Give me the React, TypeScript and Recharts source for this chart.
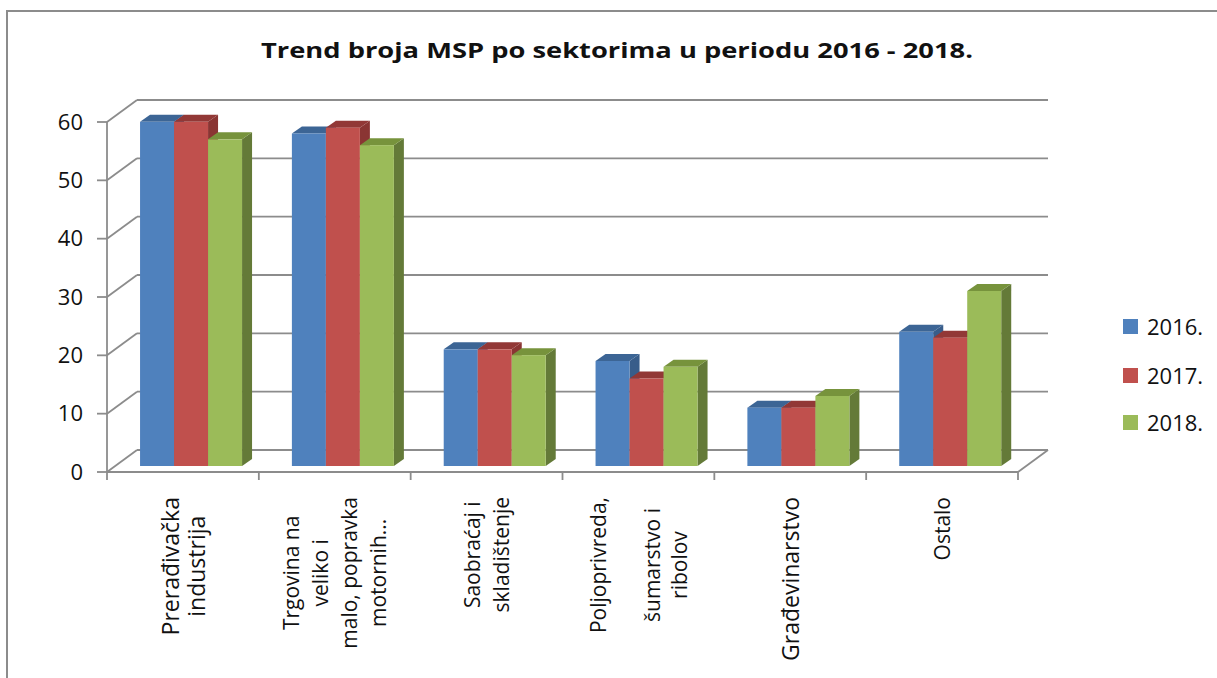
import React from 'react';
import { BarChart, Bar, XAxis, YAxis, CartesianGrid } from 'recharts';

// ---------- data ----------
const title = 'Trend broja MSP po sektorima u periodu 2016 - 2018.';
const categories = [
  'Prerađivačka industrija',
  'Trgovina na veliko i malo, popravka motornih...',
  'Saobraćaj i skladištenje',
  'Poljoprivreda, šumarstvo i ribolov',
  'Građevinarstvo',
  'Ostalo',
];
const categoryLabelLines = [
  ['Prerađivačka', 'industrija'],
  ['Trgovina na', 'veliko i', 'malo, popravka', 'motornih...'],
  ['Saobraćaj i', 'skladištenje'],
  ['Poljoprivreda,', '', 'šumarstvo i', 'ribolov'],
  ['Građevinarstvo'],
  ['Ostalo'],
];
const seriesNames = ['2016.', '2017.', '2018.'];
const values2016 = [59, 57, 20, 18, 10, 23];
const values2017 = [59, 58, 20, 15, 10, 22];
const values2018 = [56, 55, 19, 17, 12, 30];
const yTicks = [0, 10, 20, 30, 40, 50, 60];

// ---------- styles / geometry ----------
const W = 1217;
const H = 678;
const FONT = "'Open Sans', sans-serif";
const GRID = '#8c8c8c';
const FRONT = ['#4F81BD', '#C0504D', '#9BBB59'];
const TOP = ['#3C6595', '#923836', '#77933C'];
const SIDE = ['#385D8A', '#8A3533', '#647A38'];
const WALL_DX = 30;
const WALL_DY = -22;
const BAR_SHIFT_X = 8;
const BAR_SHIFT_Y = -6;
const BAR_DX = 10;
const BAR_DY = -7;
const PLOT_LEFT = 107;
const PLOT_RIGHT_MARGIN = 199;
const PLOT_W = W - PLOT_LEFT - PLOT_RIGHT_MARGIN;
const LABEL_TOP_GAP = 25;
const LABEL_STYLE = [
  { size: 23, gap: 26 },
  { size: 21, gap: 29 },
  { size: 21, gap: 29 },
  { size: 21, gap: 27 },
  { size: 23, gap: 26 },
  { size: 21, gap: 26 },
];

const data = categories.map((name, i) => ({
  name,
  v2016: values2016[i],
  v2017: values2017[i],
  v2018: values2018[i],
}));
const seriesKeys = ['v2016', 'v2017', 'v2018'];

let measureCtx: CanvasRenderingContext2D | null = null;
function measure(text: string, size: number): number {
  try {
    if (!measureCtx) measureCtx = document.createElement('canvas').getContext('2d');
    if (measureCtx) {
      measureCtx.font = `${size}px 'Open Sans'`;
      return measureCtx.measureText(text).width;
    }
  } catch (e) {}
  return text.length * size * 0.55;
}

const makeShape = (k: number) => (props: any) => {
  const { x, y, width, height } = props;
  if (x == null || y == null || !height) return <g />;
  const fx = x + BAR_SHIFT_X;
  const fy = y + BAR_SHIFT_Y;
  const w = width;
  const h = height;
  const top = `${fx},${fy} ${fx + w},${fy} ${fx + w + BAR_DX},${fy + BAR_DY} ${fx + BAR_DX},${fy + BAR_DY}`;
  const side = `${fx + w},${fy} ${fx + w + BAR_DX},${fy + BAR_DY} ${fx + w + BAR_DX},${fy + h + BAR_DY} ${fx + w},${fy + h}`;
  return (
    <g>
      <polygon points={side} fill={SIDE[k]} />
      <polygon points={top} fill={TOP[k]} />
      <rect x={fx} y={fy} width={w} height={h} fill={FRONT[k]} />
    </g>
  );
};

const renderHLine = (p: any) => {
  const { x1, y1, x2, index } = p;
  return (
    <g key={`hl-${index}-${y1}`}>
      <line x1={x1 + WALL_DX} y1={y1 + WALL_DY} x2={x2 + WALL_DX} y2={y1 + WALL_DY} stroke={GRID} strokeWidth={1.8} />
      <line x1={x1} y1={y1} x2={x1 + WALL_DX} y2={y1 + WALL_DY} stroke={GRID} strokeWidth={1.8} />
    </g>
  );
};

const CatTick = (props: any) => {
  const { x, y, index } = props;
  const band = PLOT_W / categories.length;
  const lines = categoryLabelLines[index] || [];
  const st = LABEL_STYLE[index] || { size: 21, gap: 28 };
  const longest = Math.max(...lines.map((l) => measure(l, st.size)));
  const cy = y + LABEL_TOP_GAP + longest / 2;
  const n = lines.length;
  const left = x - band / 2;
  const right = x + band / 2;
  return (
    <g>
      <line x1={left} y1={y} x2={left} y2={y + 8} stroke={GRID} strokeWidth={1.8} />
      {index === categories.length - 1 && (
        <g>
          <line x1={right} y1={y} x2={right} y2={y + 8} stroke={GRID} strokeWidth={1.8} />
          <line x1={right} y1={y} x2={right + WALL_DX} y2={y + WALL_DY} stroke={GRID} strokeWidth={1.8} />
        </g>
      )}
      {lines.map((l, i) => {
        const lx = x + (i - (n - 1) / 2) * st.gap;
        return (
          <text
            key={i}
            x={lx}
            y={cy}
            transform={`rotate(-90, ${lx}, ${cy})`}
            textAnchor="middle"
            dominantBaseline="central"
            fontSize={st.size}
            fontFamily={FONT}
            fill="#111"
          >
            {l}
          </text>
        );
      })}
    </g>
  );
};

export default function App() {
  const legendCenters = [326, 375, 422];
  return (
    <div style={{ position: 'absolute', left: 0, top: 0, width: W, height: H, background: '#fff', overflow: 'hidden' }}>
      <div
        style={{
          position: 'absolute',
          left: 6,
          top: 10,
          right: -4,
          bottom: -4,
          borderTop: `2px solid ${GRID}`,
          borderLeft: `2px solid ${GRID}`,
        }}
      />
      <div
        style={{
          position: 'absolute',
          left: 0,
          top: 40,
          width: 1234,
          textAlign: 'center',
          fontFamily: FONT,
          fontWeight: 700,
          fontSize: 21,
          lineHeight: '21px',
          color: '#111',
          whiteSpace: 'nowrap',
          transform: 'scaleX(1.3)',
          transformOrigin: '617px 50%',
        }}
      >
        {title}
      </div>
      <div style={{ position: 'absolute', left: 0, top: 0 }}>
        <BarChart
          width={W}
          height={H}
          data={data}
          margin={{ top: 122, right: PLOT_RIGHT_MARGIN, bottom: 0, left: 0 }}
          barCategoryGap="16.5%"
          barGap={0}
        >
          <CartesianGrid vertical={false} horizontal={renderHLine} />
          <XAxis
            dataKey="name"
            axisLine={{ stroke: GRID, strokeWidth: 1.8 }}
            tickLine={false}
            tickSize={0}
            tickMargin={0}
            interval={0}
            height={206}
            tick={<CatTick />}
          />
          <YAxis
            domain={[0, 60]}
            ticks={yTicks}
            interval={0}
            width={PLOT_LEFT}
            tickSize={10}
            tickMargin={14}
            axisLine={{ stroke: GRID, strokeWidth: 1.8 }}
            tickLine={{ stroke: GRID, strokeWidth: 1.8 }}
            tick={{ fill: '#111', fontSize: 22, fontFamily: FONT }}
          />
          {seriesKeys.map((k, i) => (
            <Bar key={k} dataKey={k} name={seriesNames[i]} fill={FRONT[i]} shape={makeShape(i)} isAnimationActive={false} />
          ))}
        </BarChart>
      </div>
      {seriesNames.map((s, i) => (
        <div
          key={s}
          style={{
            position: 'absolute',
            left: 1123,
            top: legendCenters[i] - 11,
            height: 22,
            display: 'flex',
            alignItems: 'center',
            fontFamily: FONT,
            fontSize: 22,
            lineHeight: '22px',
            color: '#111',
          }}
        >
          <div style={{ width: 15, height: 15, background: FRONT[i], marginRight: 9 }} />
          <span>{s}</span>
        </div>
      ))}
    </div>
  );
}
